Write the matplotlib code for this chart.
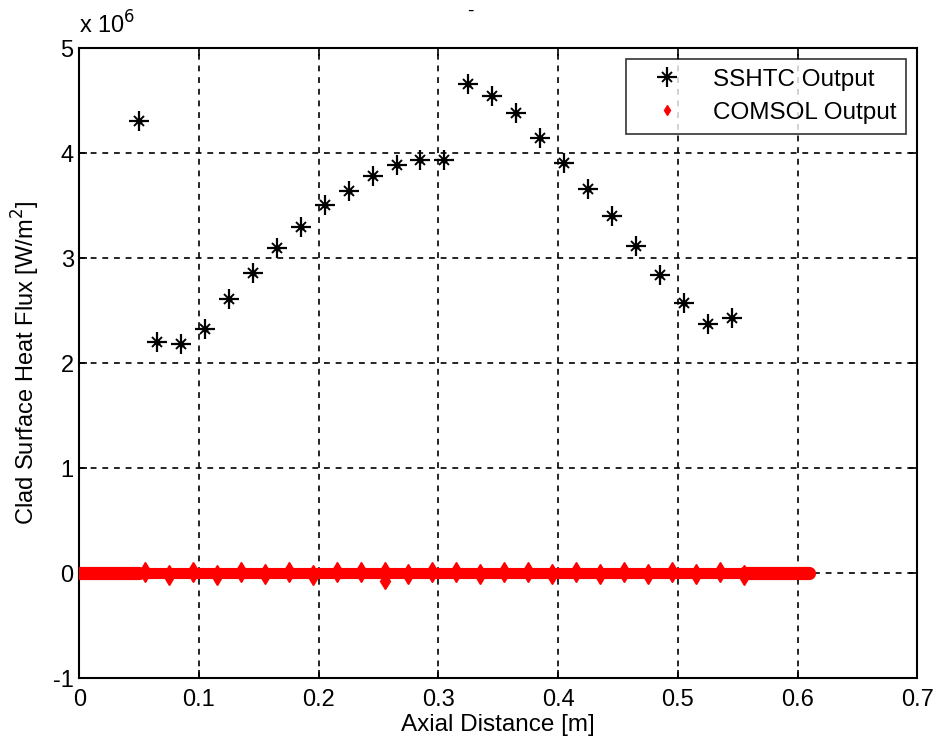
import matplotlib
matplotlib.use('Agg')
import matplotlib.pyplot as plt
from matplotlib.legend_handler import HandlerTuple
from matplotlib.ticker import FuncFormatter

# SSHTC output (axial distance [m], clad surface heat flux [W/m^2])
sshtc_x = [0.050, 0.065, 0.085, 0.105, 0.125, 0.145, 0.165, 0.185, 0.205,
           0.225, 0.245, 0.265, 0.285, 0.305, 0.325, 0.345, 0.365, 0.385,
           0.405, 0.425, 0.445, 0.465, 0.485, 0.505, 0.525, 0.545]
sshtc_q = [4.31e6, 2.20e6, 2.18e6, 2.33e6, 2.61e6, 2.86e6, 3.10e6, 3.30e6,
           3.51e6, 3.64e6, 3.78e6, 3.89e6, 3.94e6, 3.94e6, 4.66e6, 4.55e6,
           4.38e6, 4.15e6, 3.91e6, 3.66e6, 3.40e6, 3.12e6, 2.84e6, 2.57e6,
           2.37e6, 2.43e6]

# COMSOL output: dense mesh at both ends (flux ~ 0)
comsol_end1_x = [0.000, 0.010, 0.020, 0.030, 0.040, 0.050]
comsol_end2_x = [0.555, 0.570, 0.590, 0.610]
# COMSOL output along the fuel region, slight scatter about zero
comsol_x = [0.055, 0.075, 0.095, 0.115, 0.135, 0.155, 0.175, 0.195, 0.215,
            0.235, 0.255, 0.275, 0.295, 0.315, 0.335, 0.355, 0.375, 0.395,
            0.415, 0.435, 0.455, 0.475, 0.495, 0.515, 0.535, 0.555]
comsol_q = [1.0e4, -1.5e4, 1.0e4, -1.5e4, 1.5e4, -1.0e4, 1.0e4, -1.5e4,
            1.0e4, 1.5e4, 1.5e4, -1.0e4, 1.0e4, 1.5e4, -1.0e4, 1.0e4, 1.5e4,
            -1.0e4, 1.0e4, -1.0e4, 1.5e4, -1.0e4, 1.5e4, -1.0e4, 1.0e4, -1.5e4]
# one COMSOL point sitting below the band
comsol_out_x = [0.255]
comsol_out_q = [-7.3e4]

SCALE = 1e6
x_ticks = [0, 0.1, 0.2, 0.3, 0.4, 0.5, 0.6, 0.7]
y_ticks = [-1, 0, 1, 2, 3, 4, 5]

plt.rcParams['font.family'] = ['Liberation Sans', 'DejaVu Sans']
plt.rcParams['axes.unicode_minus'] = False

fig = plt.figure(figsize=(9.35, 7.47), dpi=100)
ax = fig.add_axes([0.0848, 0.092, 0.8962, 0.8434])

cq = [q / SCALE for q in comsol_q]
sq = [q / SCALE for q in sshtc_q]

# dense COMSOL mesh drawn as a thick band
ax.plot(comsol_end1_x + comsol_x + comsol_end2_x,
        [0.0] * (len(comsol_end1_x) + len(comsol_x) + len(comsol_end2_x)),
        '-', color='red', lw=8, solid_capstyle='butt', zorder=3)
for ex in (comsol_end1_x, comsol_end2_x):
    ax.plot(ex, [0.0] * len(ex), '-', color='red', lw=9.5,
            solid_capstyle='round', zorder=3)
ax.plot(comsol_x, cq, 'd', color='red', ms=10, mec='red', zorder=4, ls='none')
ax.plot(comsol_out_x, [q / SCALE for q in comsol_out_q], 'd', color='red',
        ms=8, zorder=4, ls='none')
com_h, = ax.plot([], [], 'd', color='red', ms=5, ls='none')

h1, = ax.plot(sshtc_x, sq, '+', color='black', ms=14, mew=1.6, ls='none', zorder=5)
h2, = ax.plot(sshtc_x, sq, 'x', color='black', ms=7, mew=1.4, ls='none', zorder=5)
ax.plot(sshtc_x, sq, 'o', color='black', ms=3.5, ls='none', zorder=6)

ax.set_xlim(0, 0.7)
ax.set_ylim(-1, 5)
ax.set_xticks(x_ticks)
ax.set_yticks(y_ticks)
ax.xaxis.set_major_formatter(FuncFormatter(lambda v, p: f'{v:g}'))
ax.tick_params(direction='in', top=True, right=True, length=6, width=1.2,
               labelsize=17, colors='black')
ax.tick_params(axis='x', pad=8)
ax.tick_params(axis='y', pad=4)
for s in ax.spines.values():
    s.set_linewidth(1.5)
    s.set_color('black')
ax.grid(True, color='black', ls=(0, (3.5, 3.5)), lw=1.2)
ax.set_axisbelow(True)

ax.set_xlabel('Axial Distance [m]', fontsize=17.5, labelpad=2)
ax.set_ylabel('Clad Surface Heat Flux [W/m$^2$]', fontsize=17, labelpad=8)
ax.text(0.0, 1.015, r'x 10$^6$', transform=ax.transAxes, fontsize=17,
        ha='left', va='bottom')
fig.text(0.503, 0.985, '-', fontsize=14, ha='center', va='center')

leg = ax.legend([(h1, h2), com_h], ['SSHTC Output', 'COMSOL Output'],
                handler_map={tuple: HandlerTuple(ndivide=1, pad=0)},
                loc='upper right', fontsize=17.5, frameon=True, fancybox=False,
                borderaxespad=0.45, handlelength=2.6, handletextpad=0.6,
                borderpad=0.4, labelspacing=0.45)
leg.get_frame().set_edgecolor('black')
leg.get_frame().set_linewidth(1.2)

fig.savefig('out.png', dpi=100)
